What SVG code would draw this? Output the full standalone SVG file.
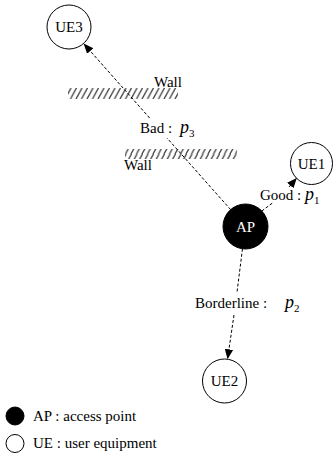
<svg xmlns="http://www.w3.org/2000/svg" width="333" height="460" viewBox="0 0 333 460">
<style>
text{font-family:"Liberation Serif","Times New Roman",serif;font-size:15px;fill:#000}
.node{fill:#fff;stroke:#000;stroke-width:1}
.ap{fill:#000;stroke:#000}
.lbl{text-anchor:middle}
.conn{stroke:#000;stroke-width:1;stroke-dasharray:3 2;fill:none}
.it{font-style:italic;font-size:18px}
.sub{font-size:11px}
</style>
<defs>
<pattern id="hatch" patternUnits="userSpaceOnUse" width="5.5" height="11">
<path d="M-1,11 L5,0 M4.5,11 L10.5,0" stroke="#444" stroke-width="1.3"/>
</pattern>
<marker id="arr" viewBox="0 0 10 10" refX="10" refY="5" markerWidth="10" markerHeight="10" markerUnits="userSpaceOnUse" orient="auto">
<path d="M0,0.8 L10,5 L0,9.2 z" fill="#000"/>
</marker>
</defs>

<g id="walls">
<rect x="68" y="88" width="110" height="11" fill="url(#hatch)"/>
<text x="154" y="87">Wall</text>
<rect x="125" y="149" width="112" height="10" fill="url(#hatch)"/>
<text x="124" y="170">Wall</text>
</g>

<g id="connectors">
<path class="conn" d="M230.6,209.6 L167,138"/>
<path class="conn" d="M149.6,118 L83.6,43.5" marker-end="url(#arr)"/>
<path class="conn" d="M261.8,211 L272.5,203"/>
<path class="conn" d="M289,187 L296.8,177.9" marker-end="url(#arr)"/>
<path class="conn" d="M242.5,248.8 L236.9,293"/>
<path class="conn" d="M234,315 L227.5,359.2" marker-end="url(#arr)"/>
</g>

<g id="labels">
<text x="140" y="133">Bad :</text>
<text x="180" y="133" class="it">p<tspan class="sub" dy="4" font-style="normal">3</tspan></text>
<text x="260" y="200">Good :</text>
<text x="305" y="200" class="it">p<tspan class="sub" dy="4" font-style="normal">1</tspan></text>
<text x="195" y="308">Borderline :</text>
<text x="285" y="308" class="it">p<tspan class="sub" dy="4" font-style="normal">2</tspan></text>
</g>

<g id="UE3">
<circle class="node" cx="69" cy="27" r="22"/>
<text class="lbl" x="69" y="32">UE3</text>
</g>
<g id="UE1">
<circle class="node" cx="311.5" cy="163.5" r="21"/>
<text class="lbl" x="311.5" y="168.5">UE1</text>
</g>
<g id="AP">
<circle class="ap" cx="245.5" cy="226.5" r="22.5"/>
<text class="lbl" x="245.5" y="231.5" style="fill:#fff">AP</text>
</g>
<g id="UE2">
<circle class="node" cx="224.5" cy="381" r="22"/>
<text class="lbl" x="224.5" y="386">UE2</text>
</g>

<g id="legend">
<circle class="ap" cx="15" cy="416" r="9"/>
<text x="33" y="421">AP : access point</text>
<circle class="node" cx="15" cy="443.5" r="9"/>
<text x="33" y="448">UE : user equipment</text>
</g>
</svg>
